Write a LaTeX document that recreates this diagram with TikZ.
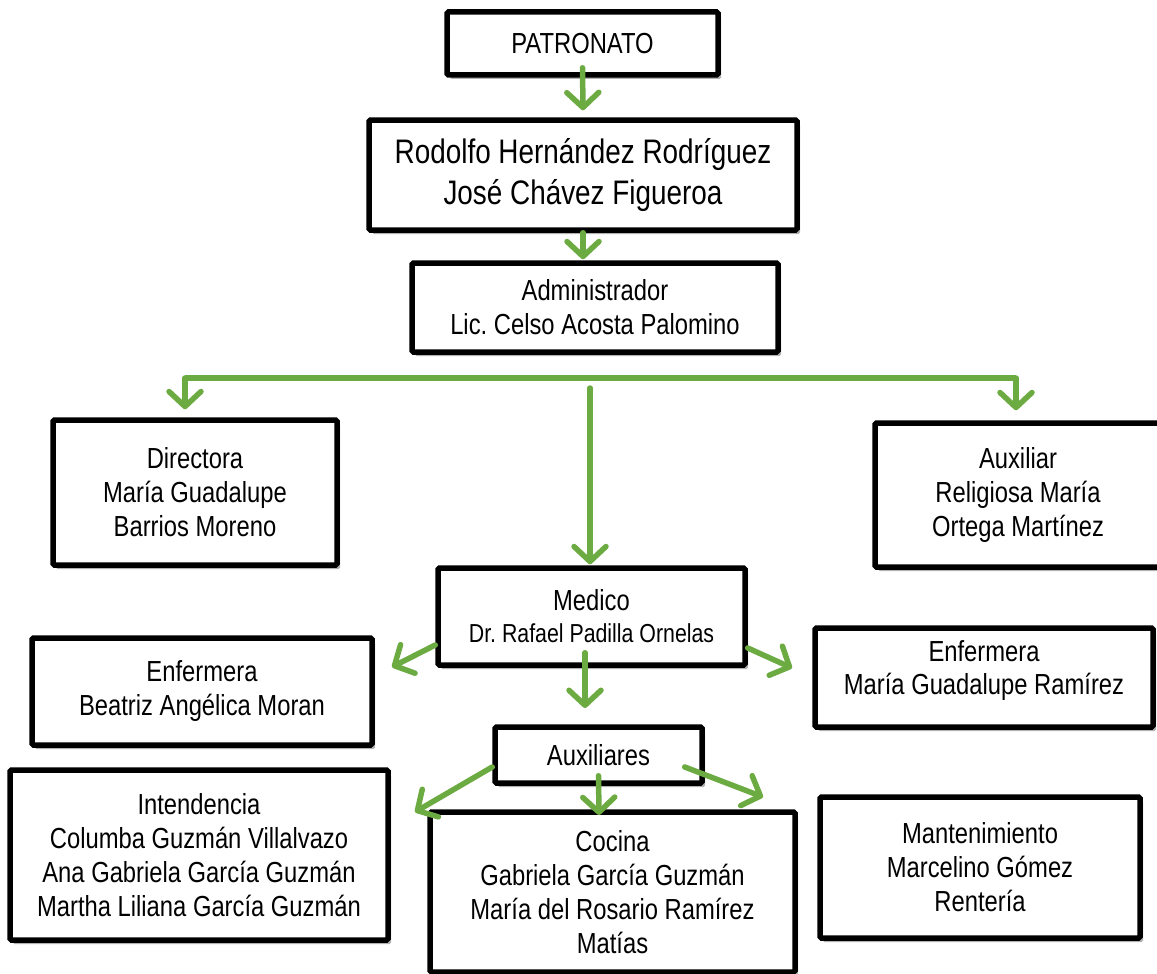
\documentclass[tikz,border=0pt]{standalone}
\usepackage{fontspec}
\setmainfont{Liberation Sans}[FakeStretch=0.82]
\frenchspacing
\usetikzlibrary{arrows.meta,shadows,calc}
\definecolor{orgGreen}{RGB}{108,170,66}
\begin{document}
\begin{tikzpicture}[x=1pt,y=-1pt,
  box/.style={draw=black, line width=5.5pt, fill=white, rounded corners=1.5pt,
    inner sep=0pt, align=center,
    drop shadow={shadow xshift=3pt, shadow yshift=-4pt, opacity=0.3, fill=black},
    font=\fontsize{29}{34}\selectfont},
  gline/.style={draw=orgGreen, line width=5.5pt},
  garrow/.style={draw=orgGreen, line width=5.5pt, line cap=round,
    -{Straight Barb[length=15pt,width=32pt,round]}}]
\useasboundingbox (0,0) rectangle (1157,974);

% boxes
\node[box, minimum width=271pt, minimum height=63pt] (patronato) at (582.5,43.5) {PATRONATO};
\node[box, minimum width=428pt, minimum height=110pt, font=\fontsize{34}{41}\selectfont] (rodolfo) at (583,175) {Rodolfo Hernández Rodríguez\\José Chávez Figueroa};
\node[box, minimum width=366pt, minimum height=89pt] (admin) at (595,307.5) {Administrador\\Lic.\ Celso Acosta Palomino};
\node[box, minimum width=284pt, minimum height=145pt] (directora) at (195,492.5) {Directora\\María Guadalupe\\Barrios Moreno};
\node[box, minimum width=286pt, minimum height=144pt] (auxiliar) at (1018,495) {Auxiliar\\Religiosa María\\Ortega Martínez};
\node[box, minimum width=307pt, minimum height=97pt] (medico) at (591.5,616.5) {Medico\\[-2pt]{\fontsize{26}{30}\selectfont Dr.\ Rafael Padilla Ornelas}};
\node[box, minimum width=340pt, minimum height=107pt] (enfL) at (202,691.5) {Enfermera\\Beatriz Angélica Moran};
\node[box, minimum width=338pt, minimum height=99pt] (enfR) at (984,677.5) {Enfermera\\María Guadalupe Ramírez\\[-14pt]\phantom{X}};
\node[box, minimum width=207pt, minimum height=56pt] (auxs) at (598.5,755) {Auxiliares};
\node[box, minimum width=378pt, minimum height=170pt] (intend) at (199,855) {Intendencia\\Columba Guzmán Villalvazo\\Ana Gabriela García Guzmán\\Martha Liliana García Guzmán};
\node[box, minimum width=365pt, minimum height=160pt] (cocina) at (612.5,892) {Cocina\\Gabriela García Guzmán\\María del Rosario Ramírez\\Matías};
\node[box, minimum width=320pt, minimum height=141pt] (mant) at (980,867.5) {Mantenimiento\\Marcelino Gómez\\Rentería};

% connector coordinates
\coordinate (barL) at (185,378);
\coordinate (barR) at (1016,378);
\coordinate (midTop) at (590,388);
\coordinate (enfLTip) at (392,667);
\coordinate (enfRTip) at (792,668);
\coordinate (auxsTip) at (585,708);
\coordinate (intTip) at (415,812);
\coordinate (cocTip) at (599,815);
\coordinate (manTip) at (763,797);

% connectors
\draw[garrow] ([yshift=10pt]patronato.south) -- ([yshift=7pt]rodolfo.north);
\draw[garrow] (rodolfo.south) -- ([yshift=1pt]rodolfo.south |- admin.north);
\draw[gline] (barL) -- (barR);
\draw[garrow, shorten >=8pt] (barL) -- (barL |- directora.north);
\draw[garrow, shorten >=10pt] (barR) -- (barR |- auxiliar.north);
\draw[garrow] (midTop) -- ([yshift=1pt]midTop |- medico.north);
\draw[garrow] ([yshift=-28.5pt]medico.west) -- (enfLTip);
\draw[garrow] ([yshift=-31.5pt]medico.east) -- (enfRTip);
\draw[garrow] ([xshift=-6.5pt,yshift=15pt]medico.south) -- (auxsTip);
\draw[garrow] ([yshift=-12pt]auxs.west) -- (intTip);
\draw[garrow] ([yshift=10pt]auxs.south) -- (cocTip);
\draw[garrow] ([xshift=-20pt,yshift=-12pt]auxs.east) -- (manTip);
\end{tikzpicture}
\end{document}
